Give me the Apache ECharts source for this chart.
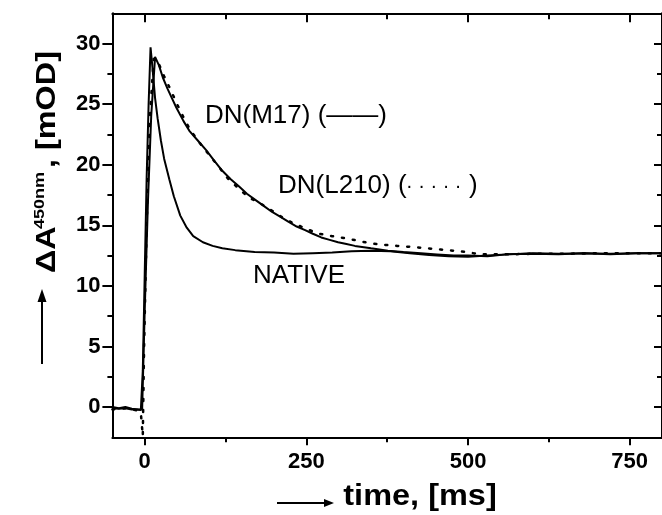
<!DOCTYPE html>
<html>
<head>
<meta charset="utf-8">
<script src="https://cdn.jsdelivr.net/npm/echarts@6/dist/echarts.min.js"></script>
<style>
html,body{margin:0;padding:0;background:#fff;}
#chart{width:662px;height:515px;}
</style>
</head>
<body>
<div id="chart"></div>
<script>
// ---- data ----
var xMajorTicks = [0, 250, 500, 750];
var xMinorTicks = [125, 375, 625];
var yMajorTicks = [0, 5, 10, 15, 20, 25, 30];
var yMinorTicks = [2.5, 7.5, 12.5, 17.5, 22.5, 27.5];

var nativeT = [-50, -40, -30, -20, -12, -6, -3, 0, 3, 6, 9, 12, 16, 20, 25, 30, 38, 45, 55, 65, 75, 90, 105, 120, 140, 170, 200, 230, 260, 290, 320, 350, 380, 410, 440, 470, 500, 530, 560, 600, 640, 680, 720, 760, 800];
var nativeV = [-0.1, -0.15, -0.1, -0.2, -0.2, -0.25, 3, 11, 19, 25, 29.7, 28, 25.5, 23.8, 22.0, 20.5, 18.8, 17.4, 15.8, 14.8, 14.1, 13.6, 13.3, 13.1, 12.95, 12.8, 12.75, 12.65, 12.7, 12.75, 12.85, 12.9, 12.85, 12.7, 12.55, 12.45, 12.4, 12.5, 12.6, 12.7, 12.65, 12.7, 12.6, 12.7, 12.7];

var m17T = [-50, -40, -30, -20, -10, -4, 0, 5, 10, 16, 22, 28, 35, 42, 49, 60, 69, 82, 95, 108, 120, 133, 146, 158, 171, 184, 197, 210, 222, 235, 248, 260, 273, 286, 299, 312, 325, 350, 376, 400, 427, 452, 478, 500, 530, 560, 600, 640, 680, 720, 760, 800];
var m17V = [0, -0.1, 0, -0.15, -0.2, -0.2, 8, 17, 24, 28.9, 28.2, 27.2, 26.3, 25.5, 24.7, 23.6, 22.8, 22.0, 21.2, 20.3, 19.5, 18.8, 18.2, 17.6, 17.1, 16.6, 16.1, 15.7, 15.3, 14.9, 14.6, 14.3, 14.0, 13.8, 13.6, 13.45, 13.3, 13.1, 12.9, 12.8, 12.7, 12.6, 12.5, 12.5, 12.45, 12.6, 12.65, 12.6, 12.7, 12.65, 12.7, 12.7];

var l210T = [-50, -30, -10, -6, -3, -1, 3, 8, 14, 22, 30, 40, 50, 60, 70, 85, 100, 115, 128, 146, 161, 179, 197, 217, 233, 250, 270, 290, 314, 332, 350, 368, 390, 416, 437, 458, 478, 496, 520, 560, 600, 650, 700, 750, 800];
var l210V = [-0.2, -0.1, -0.3, -0.5, -2.4, 5, 15, 24, 28.8, 28.3, 27.3, 26.2, 25.0, 23.9, 22.9, 21.8, 20.8, 19.8, 18.9, 18.0, 17.3, 16.8, 16.2, 15.5, 15.1, 14.7, 14.3, 14.1, 13.9, 13.7, 13.5, 13.4, 13.3, 13.2, 13.1, 13.0, 12.9, 12.8, 12.6, 12.6, 12.65, 12.65, 12.7, 12.7, 12.7];

function zip(t, v) { return t.map(function (x, i) { return [x, v[i]]; }); }

var FONT = '"Liberation Sans", Arial, Helvetica, sans-serif';
var gridPos = { left: 112.4, right: -4.6, top: 13.3, bottom: 77.7 };

function tick(inside, len, vals) {
  return { show: true, inside: inside, length: len, customValues: vals, lineStyle: { color: '#000', width: 2 } };
}
function axisBase(extra) {
  var o = {
    type: 'value',
    axisLine: { show: true, onZero: false, lineStyle: { color: '#000', width: 2 } },
    splitLine: { show: false },
    axisLabel: { show: false }
  };
  for (var k in extra) o[k] = extra[k];
  return o;
}
var noLine = { show: false, onZero: false };
var labelStyle = { color: '#000', fontSize: 22, fontWeight: 'bold', fontFamily: FONT };

var chart = echarts.init(document.getElementById('chart'), null, { renderer: 'canvas' });

var option = {
  animation: false,
  backgroundColor: '#fff',
  grid: [
    Object.assign({ containLabel: false }, gridPos),
    Object.assign({ containLabel: false }, gridPos)
  ],
  xAxis: [
    axisBase({ gridIndex: 0, position: 'bottom', min: -50, max: 800,
      axisTick: tick(false, 8, xMajorTicks),
      axisLabel: Object.assign({ show: true, customValues: xMajorTicks, margin: 14 }, labelStyle) }),
    axisBase({ gridIndex: 0, position: 'top', min: -50, max: 800,
      axisTick: tick(true, 9, xMajorTicks) }),
    axisBase({ gridIndex: 1, position: 'bottom', min: -50, max: 800,
      axisLine: noLine, axisTick: tick(false, 5, xMinorTicks) }),
    axisBase({ gridIndex: 1, position: 'top', min: -50, max: 800,
      axisLine: noLine, axisTick: tick(true, 6, xMinorTicks) })
  ],
  yAxis: [
    axisBase({ gridIndex: 0, position: 'left', min: -2.5, max: 32.5,
      axisTick: tick(false, 10, yMajorTicks),
      axisLabel: Object.assign({ show: true, customValues: yMajorTicks, margin: 12 }, labelStyle) }),
    axisBase({ gridIndex: 0, position: 'right', min: -2.5, max: 32.5,
      axisTick: tick(true, 8, yMajorTicks) }),
    axisBase({ gridIndex: 1, position: 'left', min: -2.5, max: 32.5,
      axisLine: noLine, axisTick: tick(false, 5, yMinorTicks) }),
    axisBase({ gridIndex: 1, position: 'right', min: -2.5, max: 32.5,
      axisLine: noLine, axisTick: tick(true, 5, yMinorTicks) })
  ],
  series: [
    { name: 'DN(L210)', type: 'line', xAxisIndex: 0, yAxisIndex: 0, data: zip(l210T, l210V),
      showSymbol: false, clip: true, lineStyle: { color: '#000', width: 2.5, type: [2, 9], cap: 'round' } },
    { name: 'NATIVE', type: 'line', xAxisIndex: 0, yAxisIndex: 0, data: zip(nativeT, nativeV),
      showSymbol: false, clip: true, lineStyle: { color: '#000', width: 2 } },
    { name: 'DN(M17)', type: 'line', xAxisIndex: 0, yAxisIndex: 0, data: zip(m17T, m17V),
      showSymbol: false, clip: true, lineStyle: { color: '#000', width: 2 } }
  ],
  graphic: [
    // annotations
    { type: 'text', x: 205, y: 116, style: { text: 'DN(M17) (——)', font: '26px ' + FONT, fill: '#000', align: 'left', verticalAlign: 'middle', textAlign: 'left', textVerticalAlign: 'middle' } },
    { type: 'text', x: 278, y: 186, style: { text: 'DN(L210) (', font: '26px ' + FONT, fill: '#000', align: 'left', verticalAlign: 'middle', textAlign: 'left', textVerticalAlign: 'middle' } },
    { type: 'text', x: 406, y: 186, style: { text: '· · · · ·', font: '20px ' + FONT, fill: '#000', align: 'left', verticalAlign: 'middle', textAlign: 'left', textVerticalAlign: 'middle' } },
    { type: 'text', x: 469, y: 186, style: { text: ')', font: '26px ' + FONT, fill: '#000', align: 'left', verticalAlign: 'middle', textAlign: 'left', textVerticalAlign: 'middle' } },
    { type: 'text', x: 253, y: 276, style: { text: 'NATIVE', font: '26px ' + FONT, fill: '#000', align: 'left', verticalAlign: 'middle', textAlign: 'left', textVerticalAlign: 'middle' } },
    // x-axis title
    { type: 'text', x: 420, y: 497, scaleX: 1.12, style: { text: 'time, [ms]', font: 'bold 29px ' + FONT, fill: '#000', align: 'center', verticalAlign: 'middle', textAlign: 'center', textVerticalAlign: 'middle' } },
    { type: 'line', shape: { x1: 277, y1: 503, x2: 326, y2: 503 }, style: { stroke: '#000', lineWidth: 2 } },
    { type: 'polygon', shape: { points: [[334, 503], [324, 499], [324, 507]] }, style: { fill: '#000' } },
    // y-axis title (rotated)
    { type: 'text', x: 48, y: 273, rotation: Math.PI / 2, scaleX: 1.2, style: { text: 'ΔA', font: 'bold 27px ' + FONT, fill: '#000', align: 'left', verticalAlign: 'middle', textAlign: 'left', textVerticalAlign: 'middle' } },
    { type: 'text', x: 40, y: 229, rotation: Math.PI / 2, scaleX: 1.2, style: { text: '450nm', font: 'bold 15px ' + FONT, fill: '#000', align: 'left', verticalAlign: 'middle', textAlign: 'left', textVerticalAlign: 'middle' } },
    { type: 'text', x: 48, y: 168, rotation: Math.PI / 2, scaleX: 1.2, style: { text: ', [mOD]', font: 'bold 27px ' + FONT, fill: '#000', align: 'left', verticalAlign: 'middle', textAlign: 'left', textVerticalAlign: 'middle' } },
    { type: 'line', shape: { x1: 42, y1: 364, x2: 42, y2: 300 }, style: { stroke: '#000', lineWidth: 2 } },
    { type: 'polygon', shape: { points: [[42, 289], [37.5, 302], [46.5, 302]] }, style: { fill: '#000' } }
  ]
};
chart.setOption(option);
</script>
</body>
</html>
